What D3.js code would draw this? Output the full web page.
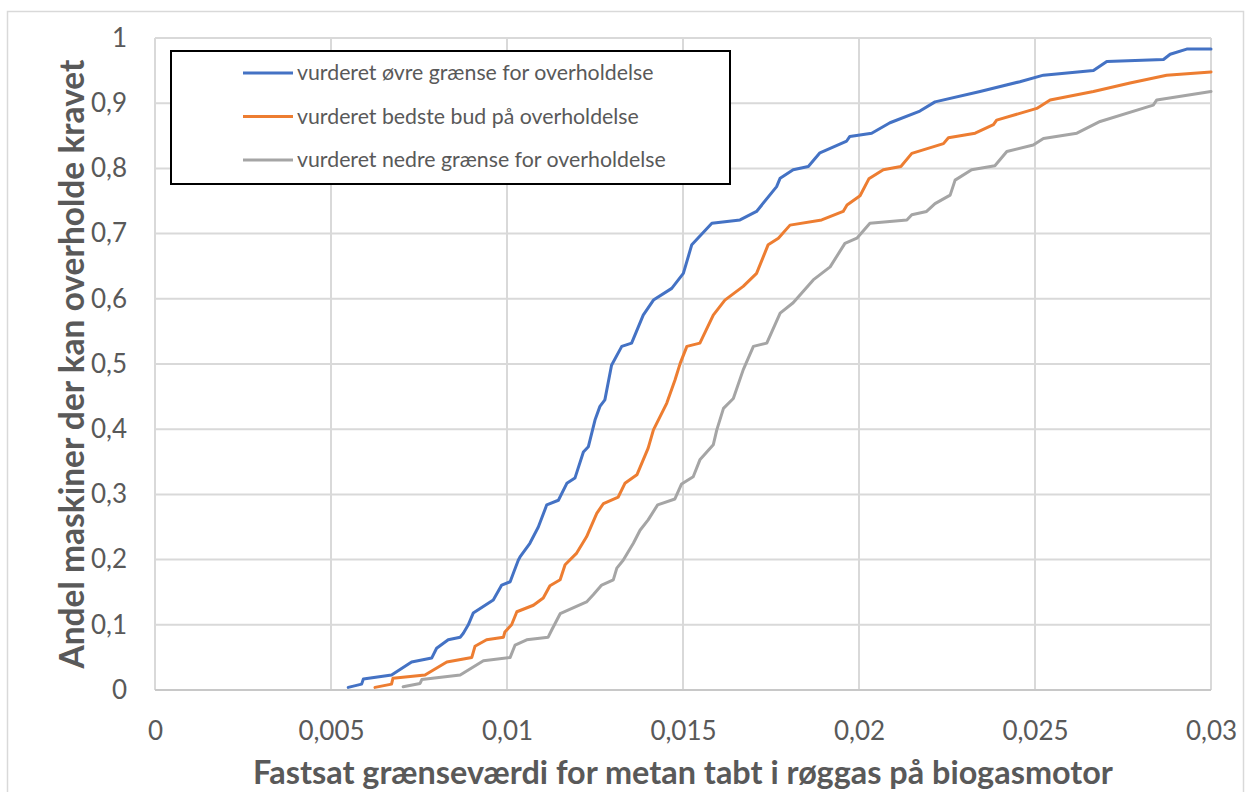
<!DOCTYPE html>
<html>
<head>
<meta charset="utf-8">
<script src="https://cdn.jsdelivr.net/npm/d3@7"></script>
<style>
  html, body { margin: 0; padding: 0; background: #fff; }
  svg { display: block; }
  text { font-family: Lato, "Open Sans", sans-serif; fill: #595959; }
</style>
</head>
<body>
<svg id="chart" width="1251" height="792"></svg>
<script>
// Share of engines that can meet a given methane-slip limit (cumulative distribution)
const xTicks = [0, 0.005, 0.01, 0.015, 0.02, 0.025, 0.03];
const yTicks = [0, 0.1, 0.2, 0.3, 0.4, 0.5, 0.6, 0.7, 0.8, 0.9, 1];

const seriesNames = [
  "vurderet øvre grænse for overholdelse",
  "vurderet bedste bud på overholdelse",
  "vurderet nedre grænse for overholdelse"
];
const seriesColors = ["#4472C4", "#ED7D31", "#A5A5A5"];

// upper estimate: [limit value, share]
const upperX = [0.00549,0.00587,0.00592,0.00672,0.00729,0.00786,0.00800,0.00833,0.00867,0.00876,0.00890,0.00904,0.00961,0.00985,0.01009,0.01018,0.01032,0.01037,0.01065,0.01089,0.01113,0.01146,0.01170,0.01193,0.01217,0.01231,0.01250,0.01264,0.01278,0.01297,0.01326,0.01354,0.01387,0.01416,0.01468,0.01501,0.01525,0.01582,0.01662,0.01709,0.01766,0.01776,0.01813,0.01856,0.01889,0.01965,0.01974,0.02036,0.02088,0.02173,0.02216,0.02344,0.02457,0.02524,0.02666,0.02704,0.02865,0.02884,0.02931,0.03];
const upperY = [0.004,0.009,0.017,0.023,0.043,0.049,0.064,0.077,0.081,0.087,0.100,0.118,0.138,0.161,0.166,0.179,0.199,0.204,0.225,0.250,0.284,0.291,0.317,0.325,0.365,0.373,0.414,0.435,0.445,0.498,0.527,0.532,0.575,0.598,0.616,0.639,0.683,0.716,0.721,0.734,0.772,0.785,0.798,0.803,0.824,0.842,0.849,0.854,0.870,0.888,0.902,0.918,0.933,0.943,0.950,0.964,0.967,0.975,0.983,0.983];

// best estimate
const bestX = [0.00625,0.00672,0.00676,0.00767,0.00829,0.00900,0.00909,0.00942,0.00990,0.00994,0.01013,0.01028,0.01075,0.01103,0.01122,0.01151,0.01165,0.01198,0.01226,0.01255,0.01274,0.01316,0.01335,0.01369,0.01401,0.01416,0.01454,0.01477,0.01492,0.01511,0.01548,0.01586,0.01619,0.01671,0.01709,0.01742,0.01771,0.01804,0.01894,0.01955,0.01966,0.02003,0.02028,0.02069,0.02119,0.02150,0.02240,0.02254,0.02330,0.02382,0.02391,0.02505,0.02543,0.02666,0.02770,0.02874,0.03];
const bestY = [0.004,0.009,0.018,0.023,0.043,0.050,0.067,0.077,0.081,0.089,0.100,0.120,0.130,0.141,0.160,0.169,0.192,0.210,0.235,0.271,0.286,0.296,0.317,0.330,0.371,0.399,0.440,0.475,0.501,0.527,0.532,0.575,0.598,0.619,0.639,0.683,0.693,0.713,0.721,0.734,0.744,0.758,0.784,0.798,0.803,0.823,0.838,0.847,0.854,0.867,0.874,0.892,0.905,0.918,0.931,0.943,0.948];

// lower estimate
const lowerX = [0.00705,0.00753,0.00758,0.00867,0.00933,0.01009,0.01023,0.01056,0.01117,0.01127,0.01151,0.01226,0.01245,0.01269,0.01302,0.01312,0.01330,0.01359,0.01378,0.01401,0.01428,0.01477,0.01496,0.01529,0.01548,0.01586,0.01596,0.01615,0.01643,0.01671,0.01700,0.01738,0.01776,0.01813,0.01870,0.01918,0.01960,0.01994,0.02031,0.02136,0.02150,0.02192,0.02216,0.02259,0.02273,0.02320,0.02386,0.02420,0.02495,0.02524,0.02619,0.02685,0.02836,0.02846,0.03];
const lowerY = [0.005,0.010,0.016,0.023,0.045,0.050,0.069,0.077,0.081,0.092,0.117,0.135,0.146,0.161,0.169,0.187,0.199,0.225,0.245,0.261,0.284,0.293,0.316,0.327,0.353,0.376,0.399,0.432,0.447,0.491,0.527,0.532,0.578,0.594,0.629,0.649,0.685,0.693,0.716,0.721,0.729,0.734,0.746,0.759,0.782,0.798,0.804,0.826,0.836,0.846,0.854,0.872,0.897,0.905,0.918];

const seriesX = [upperX, bestX, lowerX];
const seriesY = [upperY, bestY, lowerY];

const svg = d3.select("#chart");
const W = 1251, H = 792;
const plot = { left: 155, right: 1211, top: 38, bottom: 690 };

const x = d3.scaleLinear().domain([0, 0.03]).range([plot.left, plot.right]);
const y = d3.scaleLinear().domain([0, 1]).range([plot.bottom, plot.top]);
const fmt = v => String(+v.toFixed(3)).replace(".", ",");

// chart frame
svg.append("rect")
  .attr("x", 7.5).attr("y", 11.5).attr("width", W - 15).attr("height", H)
  .attr("fill", "#fff").attr("stroke", "#d9d9d9").attr("stroke-width", 1.5);

// gridlines
const grid = svg.append("g").attr("stroke", "#d9d9d9").attr("stroke-width", 2);
grid.selectAll("line.h").data(yTicks).join("line")
  .attr("x1", plot.left).attr("x2", plot.right)
  .attr("y1", d => y(d)).attr("y2", d => y(d));
grid.selectAll("line.v").data(xTicks).join("line")
  .attr("y1", plot.top).attr("y2", plot.bottom)
  .attr("x1", d => x(d)).attr("x2", d => x(d));

// bottom axis line
svg.append("line")
  .attr("x1", plot.left).attr("x2", plot.right)
  .attr("y1", plot.bottom).attr("y2", plot.bottom)
  .attr("stroke", "#c8c8c8").attr("stroke-width", 2);

// tick labels via d3 axes (domain and tick lines hidden)
const xAxis = svg.append("g")
  .attr("transform", `translate(0,${plot.bottom})`)
  .call(d3.axisBottom(x).tickValues(xTicks).tickFormat(fmt).tickSize(0));
const yAxis = svg.append("g")
  .attr("transform", `translate(${plot.left},0)`)
  .call(d3.axisLeft(y).tickValues(yTicks).tickFormat(fmt).tickSize(0).tickPadding(28));
[xAxis, yAxis].forEach(a => {
  a.select(".domain").remove();
  a.selectAll("text")
    .attr("font-family", "Lato, 'Open Sans', sans-serif")
    .attr("font-size", 26)
    .attr("fill", "#595959");
});
xAxis.selectAll("text").attr("dy", "0.35em").attr("y", 41);

// series lines
const line = d3.line().x(d => x(d[0])).y(d => y(d[1]));
seriesX.forEach((xs, i) => {
  const pts = xs.map((v, j) => [v, seriesY[i][j]]);
  svg.append("path")
    .datum(pts)
    .attr("d", line)
    .attr("fill", "none")
    .attr("stroke", seriesColors[i])
    .attr("stroke-width", 3)
    .attr("stroke-linejoin", "round")
    .attr("stroke-linecap", "round");
});

// legend
const legend = svg.append("g");
legend.append("rect")
  .attr("x", 171).attr("y", 51).attr("width", 559).attr("height", 133)
  .attr("fill", "#fff").attr("stroke", "#000").attr("stroke-width", 2);
seriesNames.forEach((name, i) => {
  const ly = 73 + i * 43.5;
  legend.append("line")
    .attr("x1", 243).attr("x2", 293).attr("y1", ly).attr("y2", ly)
    .attr("stroke", seriesColors[i]).attr("stroke-width", 3);
  legend.append("text")
    .attr("x", 297).attr("y", ly).attr("dy", "0.35em")
    .attr("font-size", 21.3)
    .text(name);
});

// axis titles
svg.append("text")
  .attr("x", 683).attr("y", 784)
  .attr("text-anchor", "middle")
  .attr("font-size", 32.4).attr("font-weight", "bold")
  .text("Fastsat grænseværdi for metan tabt i røggas på biogasmotor");
svg.append("text")
  .attr("transform", "translate(84,364) rotate(-90)")
  .attr("text-anchor", "middle")
  .attr("font-size", 33.5).attr("font-weight", "bold")
  .text("Andel maskiner der kan overholde kravet");
</script>
</body>
</html>
